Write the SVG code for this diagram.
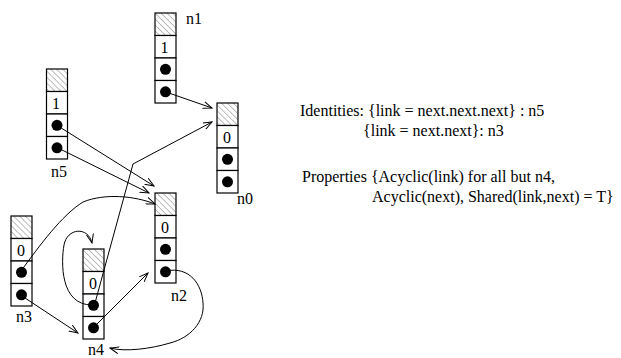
<svg xmlns="http://www.w3.org/2000/svg" width="621" height="358" viewBox="0 0 621 358">
<defs>
<pattern id="hatch" width="4.2" height="4.2" patternUnits="userSpaceOnUse" patternTransform="rotate(45)">
<line x1="0" y1="0" x2="4.2" y2="0" stroke="#444" stroke-width="0.7"/>
</pattern>
<marker id="arr" markerWidth="10" markerHeight="8" refX="9" refY="4" orient="auto" markerUnits="userSpaceOnUse">
<path d="M0,0.5 L9,4 L0,7.5" fill="none" stroke="#000" stroke-width="1"/>
</marker>
</defs>
<style>
.cell{fill:#fff;stroke:#000;stroke-width:1.2}
.hat{fill:url(#hatch);stroke:#000;stroke-width:1.2}
.dot{fill:#000}
text{font-family:"Liberation Serif","Times New Roman",serif;font-size:16px;fill:#000}
.v{text-anchor:middle}
.c{stroke:#000;stroke-width:1;fill:none;marker-end:url(#arr)}
</style>
<g id="n1">
<rect class="hat" x="155" y="13" width="21" height="22.5"/>
<rect class="cell" x="155" y="35.5" width="21" height="22.5"/>
<rect class="cell" x="155" y="58" width="21" height="22.5"/>
<rect class="cell" x="155" y="80.5" width="21" height="22.5"/>
<text class="v" x="164.5" y="53">1</text>
<circle class="dot" cx="165.5" cy="69.3" r="5.5"/>
<circle class="dot" cx="165.5" cy="91.8" r="5.5"/>
<text x="186" y="24">n1</text>
</g>
<g id="n5">
<rect class="hat" x="46.5" y="69" width="21" height="22.5"/>
<rect class="cell" x="46.5" y="91.5" width="21" height="22.5"/>
<rect class="cell" x="46.5" y="114" width="21" height="22.5"/>
<rect class="cell" x="46.5" y="136.5" width="21" height="22.5"/>
<text class="v" x="56" y="109">1</text>
<circle class="dot" cx="57" cy="125.3" r="5.5"/>
<circle class="dot" cx="57" cy="147.8" r="5.5"/>
<text x="51" y="177">n5</text>
</g>
<g id="n0">
<rect class="hat" x="217" y="103" width="21" height="22.5"/>
<rect class="cell" x="217" y="125.5" width="21" height="22.5"/>
<rect class="cell" x="217" y="148" width="21" height="22.5"/>
<rect class="cell" x="217" y="170.5" width="21" height="22.5"/>
<text class="v" x="227" y="143">0</text>
<circle class="dot" cx="227.5" cy="159.3" r="5.5"/>
<circle class="dot" cx="227.5" cy="181.8" r="5.5"/>
<text x="237" y="204">n0</text>
</g>
<g id="n2">
<rect class="hat" x="155" y="193" width="21" height="22.5"/>
<rect class="cell" x="155" y="215.5" width="21" height="22.5"/>
<rect class="cell" x="155" y="238" width="21" height="22.5"/>
<rect class="cell" x="155" y="260.5" width="21" height="22.5"/>
<text class="v" x="165" y="233">0</text>
<circle class="dot" cx="165.5" cy="249.3" r="5.5"/>
<circle class="dot" cx="165.5" cy="271.8" r="5.5"/>
<text x="171" y="301">n2</text>
</g>
<g id="n3">
<rect class="hat" x="11" y="216" width="21" height="22.5"/>
<rect class="cell" x="11" y="238.5" width="21" height="22.5"/>
<rect class="cell" x="11" y="261" width="21" height="22.5"/>
<rect class="cell" x="11" y="283.5" width="21" height="22.5"/>
<text class="v" x="21" y="256">0</text>
<circle class="dot" cx="21.5" cy="272.3" r="5.5"/>
<circle class="dot" cx="21.5" cy="294.8" r="5.5"/>
<text x="16" y="322">n3</text>
</g>
<g id="n4">
<rect class="hat" x="83" y="249" width="21" height="22.5"/>
<rect class="cell" x="83" y="271.5" width="21" height="22.5"/>
<rect class="cell" x="83" y="294" width="21" height="22.5"/>
<rect class="cell" x="83" y="316.5" width="21" height="22.5"/>
<text class="v" x="93" y="289">0</text>
<circle class="dot" cx="93.5" cy="305.3" r="5.5"/>
<circle class="dot" cx="93.5" cy="327.8" r="5.5"/>
<text x="88" y="355">n4</text>
</g>
<g id="connectors">
<path class="c" d="M166,92 L212,108"/>
<path class="c" d="M95,303 L133,164 L212,122"/>
<path class="c" d="M58,126 L154,186"/>
<path class="c" d="M58,148 L149,193"/>
<path class="c" d="M21,271 C40,245 62,215 83,202 C105,193 135,196 155,204"/>
<path class="c" d="M92,305 C60,305 61,262 64,245 C67,228 88,226 92,243"/>
<path class="c" d="M22,296 L78,333"/>
<path class="c" d="M94,327 L148,273"/>
<path class="c" d="M166,271 C190,266 202,285 203,303 C205,322 190,338 170,343 C150,349 125,352 110,348"/>
</g>
<g id="notes">
<text x="300" y="116">Identities: {link = next.next.next} : n5</text>
<text x="363" y="136">{link = next.next}: n3</text>
<text x="302" y="182">Properties {Acyclic(link) for all but n4,</text>
<text x="372" y="202">Acyclic(next), Shared(link,next) = T}</text>
</g>
</svg>
